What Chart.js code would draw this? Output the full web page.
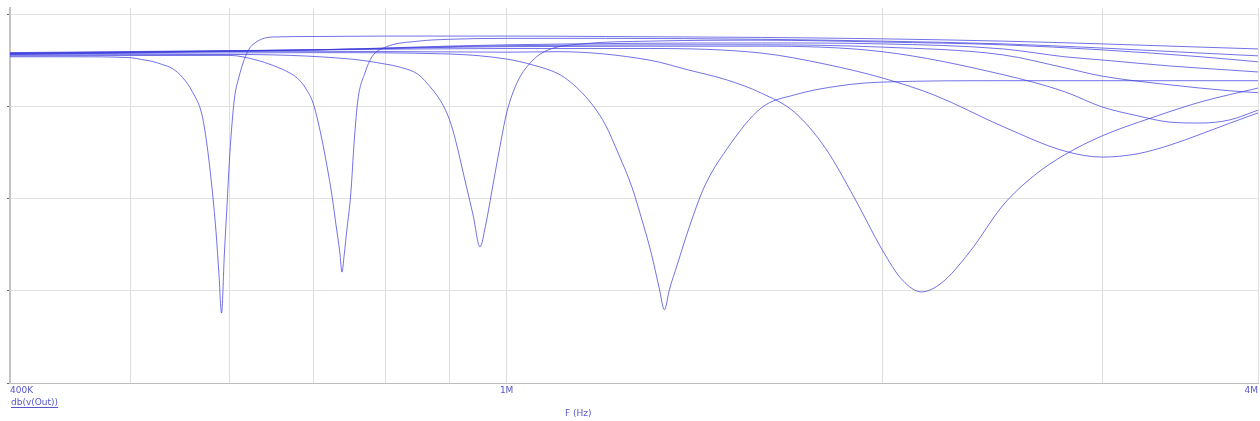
<!DOCTYPE html>
<html>
<head>
<meta charset="utf-8">
<script src="https://cdn.jsdelivr.net/npm/chart.js@4.4.1/dist/chart.umd.min.js"></script>
<style>
  body { margin: 0; background: #fff; }
  canvas { display: block; }
</style>
</head>
<body>
<canvas id="plot" width="1260" height="421"></canvas>
<script>
// frequency grid + labels
const xTicks = [400e3, 500e3, 600e3, 700e3, 800e3, 900e3, 1e6, 2e6, 3e6, 4e6];
const xLabels = {400000: '400K', 1000000: '1M', 4000000: '4M'};
const yTicks = [-80, -60, -40, -20, 0];

// db(v(Out)) traces, freq in kHz, level in dB
const freqA = [400, 450, 500, 510, 520, 530, 540, 550, 560, 570, 575, 580, 585, 588, 591, 594, 597, 600, 605, 610, 620, 630, 650, 700, 800, 1000, 1200, 1600, 2000, 2500, 3000, 3600, 4000];
const dbA   = [-9.1, -9.1, -9.3, -9.7, -10.1, -10.8, -11.7, -13.6, -16.7, -21.7, -27.8, -36.3, -47.2, -55.9, -64.8, -52.2, -41.3, -30.4, -18.5, -13.7, -8.0, -5.9, -4.8, -4.7, -4.6, -4.6, -4.7, -4.9, -5.2, -5.7, -6.3, -7.0, -7.4];

const freqB = [400, 600, 630, 650, 670, 680, 690, 700, 710, 720, 725, 730, 735, 738, 741, 745, 750, 755, 760, 770, 780, 800, 850, 900, 1000, 1200, 1600, 2000, 2500, 3000, 3600, 4000];
const dbB   = [-8.9, -8.8, -9.8, -11.0, -12.6, -13.8, -15.9, -19.3, -26.1, -34.8, -39.8, -45.7, -51.5, -55.9, -52.2, -46.3, -39.1, -27.2, -18.5, -12.6, -9.1, -7.0, -5.7, -5.3, -5.1, -5.1, -5.3, -5.7, -6.3, -7.2, -8.3, -8.9];

const freqC = [400, 600, 750, 800, 820, 850, 870, 880, 890, 900, 910, 925, 940, 952, 962, 975, 990, 1000, 1020, 1050, 1080, 1150, 1300, 1600, 2000, 2500, 3000, 3600, 4000];
const dbC   = [-8.7, -8.6, -9.6, -10.7, -11.3, -13.0, -15.9, -17.6, -19.8, -22.8, -27.2, -35.4, -43.5, -50.4, -45.7, -37.0, -27.2, -21.3, -14.6, -9.8, -7.6, -6.3, -5.7, -5.5, -5.9, -6.5, -7.6, -9.1, -10.2];

const freqD = [400, 700, 900, 1000, 1050, 1100, 1125, 1150, 1175, 1200, 1230, 1260, 1285, 1305, 1325, 1338, 1350, 1370, 1400, 1440, 1500, 1600, 1700, 1850, 2000, 2500, 4000];
const dbD   = [-8.5, -8.2, -8.5, -9.6, -10.9, -12.8, -14.6, -17.0, -20.0, -23.9, -30.4, -37.4, -45.0, -51.5, -59.3, -64.1, -59.8, -54.3, -46.3, -37.4, -29.3, -20.2, -17.4, -15.4, -14.6, -14.3, -14.3];

const freqE = [400, 700, 1000, 1100, 1300, 1400, 1500, 1600, 1700, 1800, 1900, 2000, 2075, 2150, 2230, 2350, 2500, 2650, 2800, 3000, 3300, 3600, 4000];
const dbE   = [-8.4, -7.9, -8.1, -8.0, -9.8, -12.0, -14.1, -17.0, -21.1, -28.9, -39.8, -51.1, -57.6, -60.2, -58.3, -51.5, -41.3, -34.8, -30.4, -26.3, -22.2, -18.9, -15.9];

const freqF = [400, 700, 1000, 1300, 1600, 1800, 2000, 2200, 2500, 2800, 3000, 3200, 3400, 3600, 3800, 4000];
const dbF   = [-8.2, -7.6, -7.3, -7.3, -8.3, -10.7, -13.7, -17.4, -24.3, -29.6, -30.9, -30.2, -28.3, -25.9, -23.5, -21.3];

const freqG = [400, 700, 1000, 1600, 2000, 2500, 2800, 3000, 3200, 3400, 3600, 3800, 4000];
const dbG   = [-8.3, -7.6, -6.9, -6.8, -8.0, -13.0, -16.7, -20.0, -21.9, -23.3, -23.5, -22.8, -20.7];

const freqH = [400, 700, 1000, 1600, 2000, 2500, 2800, 3000, 3400, 3800, 4000];
const dbH   = [-8.4, -7.6, -6.7, -6.5, -7.0, -8.7, -11.5, -13.3, -15.2, -16.5, -16.9];

const freqI = [400, 700, 1000, 1600, 2000, 2500, 2800, 3000, 3400, 3800, 4000];
const dbI   = [-8.6, -7.6, -6.5, -6.1, -6.3, -7.4, -9.1, -9.8, -11.1, -12.0, -12.4];

const traces = [
  [freqA, dbA], [freqB, dbB], [freqC, dbC], [freqD, dbD], [freqE, dbE],
  [freqF, dbF], [freqG, dbG], [freqH, dbH], [freqI, dbI]
];

const traceColor = 'rgba(60, 60, 220, 0.72)';
const textColor = '#5656c8';

// captions under the plot (trace name + x quantity)
const captionPlugin = {
  id: 'captions',
  afterDraw(chart) {
    const c = chart.ctx;
    c.save();
    c.font = '9px "DejaVu Sans", sans-serif';
    c.fillStyle = textColor;
    c.textBaseline = 'alphabetic';
    c.fillText('db(v(Out))', 11, 405);
    const w = c.measureText('db(v(Out))').width;
    c.fillRect(11, 407, w, 1);
    c.fillText('F (Hz)', 565, 416);
    c.restore();
  }
};

new Chart(document.getElementById('plot'), {
  type: 'line',
  data: {
    datasets: traces.map(([f, d], i) => ({
      label: 'trace' + (i + 1),
      data: f.map((x, k) => ({x: x * 1000, y: d[k]})),
      borderColor: traceColor,
      borderWidth: 1,
      pointRadius: 0,
      cubicInterpolationMode: 'monotone',
      fill: false
    }))
  },
  options: {
    responsive: false,
    animation: false,
    layout: {padding: {top: 8, right: 1, left: 0, bottom: 0}},
    plugins: {legend: {display: false}, tooltip: {enabled: false}},
    scales: {
      x: {
        type: 'logarithmic',
        min: 400e3,
        max: 4e6,
        afterBuildTicks: s => { s.ticks = xTicks.map(v => ({value: v})); },
        afterFit: s => { s.height = 38; },
        grid: {color: '#dedede', drawTicks: false},
        border: {color: '#bdbdbd', width: 1},
        ticks: {
          autoSkip: false,
          maxRotation: 0,
          align: 'inner',
          padding: 2,
          color: textColor,
          font: {size: 9, family: 'DejaVu Sans'},
          callback: v => xLabels[v] || ''
        }
      },
      y: {
        min: -80,
        max: 1.5,
        afterBuildTicks: s => { s.ticks = yTicks.map(v => ({value: v})); },
        afterFit: s => { s.width = 10; },
        grid: {color: '#e2e2e2', tickLength: 3, tickColor: '#666'},
        border: {color: '#c4c4c4', width: 2},
        ticks: {display: false}
      }
    }
  },
  plugins: [captionPlugin]
});
</script>
</body>
</html>
